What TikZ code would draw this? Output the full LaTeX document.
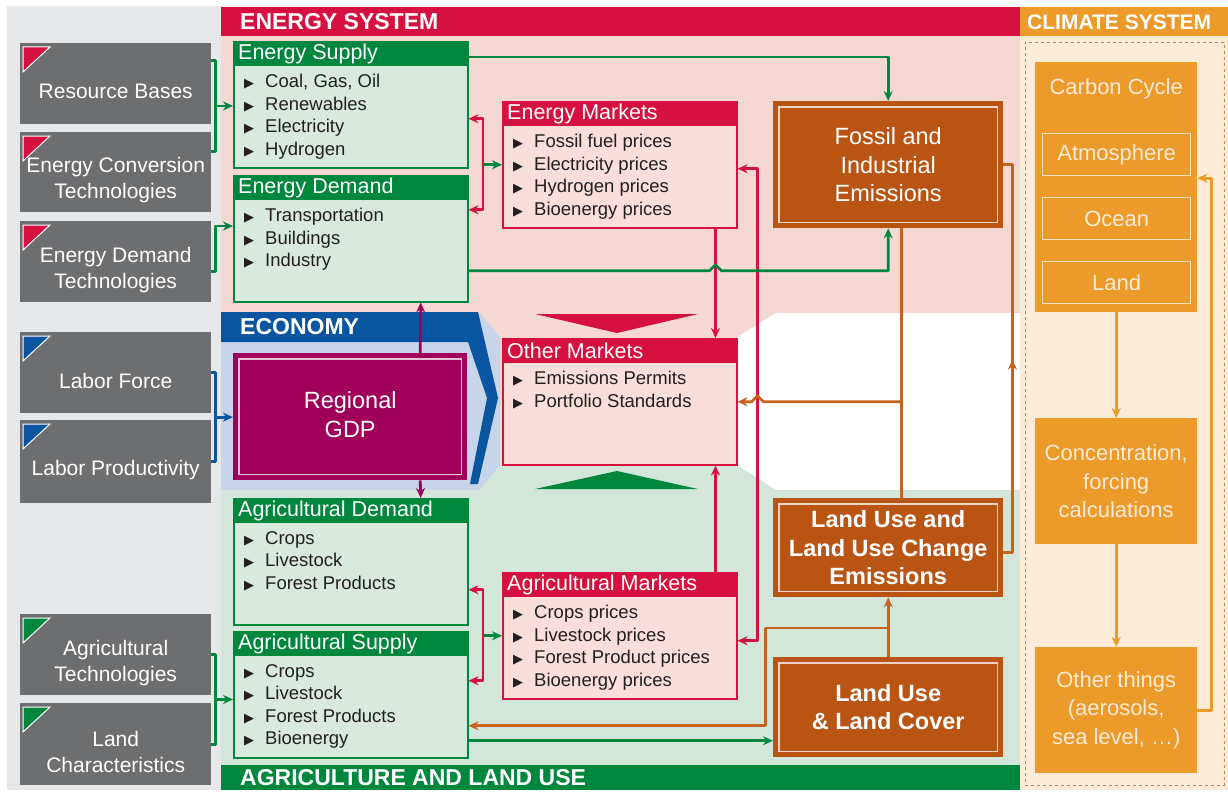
\documentclass[tikz,border=0pt]{standalone}
\usepackage{fontspec}
\setmainfont{Liberation Sans}
\newfontfamily\symfont{DejaVu Sans}
\usetikzlibrary{calc,arrows.meta}
\definecolor{esred}{HTML}{D6113F}
\definecolor{espink}{HTML}{F6D8D2}
\definecolor{pinkbox}{HTML}{F9DEDA}
\definecolor{agreen}{HTML}{00873E}
\definecolor{agbg}{HTML}{D3E6DA}
\definecolor{boxgreen}{HTML}{D7EADD}
\definecolor{ecblue}{HTML}{0A55A0}
\definecolor{eclight}{HTML}{C8D4EA}
\definecolor{gdpred}{HTML}{A0005A}
\definecolor{brownbox}{HTML}{B95413}
\definecolor{brownline}{HTML}{C4621E}
\definecolor{clorange}{HTML}{EC9A2A}
\definecolor{clcream}{HTML}{FCEBD7}
\definecolor{clline}{HTML}{FBE2BE}
\definecolor{panelgray}{HTML}{E6E7E8}
\definecolor{boxgray}{HTML}{6D6E70}
\definecolor{itemtext}{HTML}{231F20}
\newcommand{\figunit}{1pt}
\newcommand{\itm}{\makebox[21pt][l]{\symfont\fontsize{13}{13}\selectfont ▶}}
\newcommand{\inputbox}[5]{
	\node[inbox, minimum height=#3] (#1) at (#2) {};
	\node[intext] (#1-text) at ($(#1.center)+(0,8)$) {#5};
	\filldraw[fill=#4, draw=white, line width=1pt] ($(#1.north west)+(3,4)$) -- ++(27,0) -- ++(-27,25) -- cycle;
}
\newcommand{\listbox}[6]{
	\node[listframe, draw=#3, fill=#4] (#1) at (#2) {};
	\fill[#3] (#1.north west) rectangle ($(#1.north east)+(0,25)$);
	\node[listhead] (#1-head) at ($(#1.north west)+(5,12.5)$) {#5};
	\node[listitems] (#1-items) at ($(#1.north west)+(11,33)$) {#6};
}
\newcommand{\emitbox}[4]{
	\node[emitfill, minimum height=#3] (#1) at (#2) {};
	\draw[emitline] ($(#1.north west)+(6,6)$) rectangle ($(#1.south east)+(-6,-6)$);
	\node[emittext] (#1-text) at (#1.center) {#4};
}

\begin{document}
\begin{tikzpicture}[x=\figunit,y=-\figunit,
	inbox/.style={fill=boxgray, minimum width=191pt, anchor=north west, inner sep=0pt},
	intext/.style={text=white, align=center, font=\fontsize{21}{26}\selectfont},
	listframe/.style={minimum width=234pt, minimum height=126pt, anchor=north west, inner sep=0pt, line width=1.5pt},
	listhead/.style={anchor=west, text=white, inner sep=0pt, font=\fontsize{21.5}{24}\selectfont},
	listitems/.style={anchor=north west, align=left, inner sep=0pt, text=itemtext, font=\fontsize{18.5}{22.5}\selectfont},
	emitfill/.style={fill=brownbox, minimum width=230pt, anchor=north west, inner sep=0pt},
	emitline/.style={draw=white!75!brownbox, line width=1.3pt},
	emittext/.style={text=white, align=center, font=\fontsize{23.5}{28.5}\selectfont},
	climbox/.style={fill=clorange, minimum width=162pt, anchor=north west, inner sep=0pt, text=clcream, align=center, font=\fontsize{22}{28.5}\selectfont},
	climsub/.style={draw=clline, line width=1.3pt, minimum width=148pt, minimum height=42pt, anchor=north west, inner sep=0pt, text=clcream, font=\fontsize{22}{26}\selectfont},
	banner/.style={anchor=west, text=white, inner sep=0pt, font=\bfseries\fontsize{23}{26}\selectfont},
	link/.style={line width=2.8pt, line join=round},
	headed/.style={-{Stealth[length=10pt,width=9pt]}},
	both/.style={{Stealth[length=10pt,width=9pt]}-{Stealth[length=10pt,width=9pt]}},
	garrow/.style={link, draw=agreen, headed},
	rarrow/.style={link, draw=esred, headed},
	rline/.style={link, draw=esred},
	barrow/.style={link, draw=brownline, headed},
	bline/.style={link, draw=brownline},
	parrow/.style={link, draw=gdpred, headed},
	oarrow/.style={link, draw=clorange, headed},
	bbarrow/.style={link, draw=ecblue, headed},
	gline/.style={link, draw=agreen}]
	\useasboundingbox (0,0) rectangle (1228,792);

	% backgrounds
	\fill[panelgray] (7,6) rectangle (222,790);
	\fill[espink] (221,36) rectangle (1020,313);
	\fill[agbg] (221,490) rectangle (1020,765);
	\fill[eclight] (221,313) rectangle (500,490);
	\fill[espink] (480,313) -- (776,313) -- (737,337) -- (737,400) -- (500,400) -- (500,337) -- cycle;
	\fill[agbg] (500,400) -- (737,400) -- (737,465) -- (776,490) -- (480,490) -- (500,465) -- cycle;
	\fill[clcream] (1020,36) rectangle (1228,790);
	\fill[esred] (535,314) -- (698,314) -- (617,333) -- cycle;
	\fill[agreen] (535,489) -- (698,489) -- (617,471) -- cycle;

	% banners
	\fill[esred] (221,7) rectangle (1020,36);
	\node[banner] (esbanner) at (240,22) {ENERGY SYSTEM};
	\fill[clorange] (1020,7) rectangle (1228,36);
	\node[banner, font=\bfseries\fontsize{21}{24}\selectfont] (clbanner) at (1027,22) {CLIMATE SYSTEM};
	\fill[ecblue] (221,312) -- (478,312) -- (498,398) -- (478,484) -- (470,484) -- (487,398) -- (468,342) -- (221,342) -- cycle;
	\node[banner] (ecbanner) at (240,327) {ECONOMY};
	\fill[agreen] (221,765) rectangle (1020,790);
	\node[banner] (agbanner) at (240,778) {AGRICULTURE AND LAND USE};
	\node[draw=clorange!55!gray, dashed, line width=0.8pt, minimum width=199pt, minimum height=743pt, anchor=north west, inner sep=0pt] (climframe) at (1025,42) {};

	% inputs
	\inputbox{rsrc}{20,43}{81pt}{esred}{Resource Bases}
	\inputbox{econv}{20,132}{80pt}{esred}{Energy Conversion\\Technologies}
	\inputbox{edtech}{20,221}{81pt}{esred}{Energy Demand\\Technologies}
	\inputbox{labforce}{20,332}{81pt}{ecblue}{Labor Force}
	\inputbox{labprod}{20,420}{83pt}{ecblue}{Labor Productivity}
	\inputbox{agtech}{20,614}{81pt}{agreen}{Agricultural\\Technologies}
	\inputbox{landchar}{20,703}{82pt}{agreen}{Land\\Characteristics}

	% sector boxes
	\listbox{esupply}{233,41}{agreen}{boxgreen}{Energy Supply}{\itm Coal, Gas, Oil\\\itm Renewables\\\itm Electricity\\\itm Hydrogen}
	\listbox{edemand}{233,175}{agreen}{boxgreen}{Energy Demand}{\itm Transportation\\\itm Buildings\\\itm Industry}
	\listbox{emarkets}{502,101}{esred}{pinkbox}{Energy Markets}{\itm Fossil fuel prices\\\itm Electricity prices\\\itm Hydrogen prices\\\itm Bioenergy prices}
	\listbox{omarkets}{502,338}{esred}{pinkbox}{Other Markets}{\itm Emissions Permits\\\itm Portfolio Standards}
	\listbox{agdemand}{233,498}{agreen}{boxgreen}{Agricultural Demand}{\itm Crops\\\itm Livestock\\\itm Forest Products}
	\listbox{agsupply}{233,631}{agreen}{boxgreen}{Agricultural Supply}{\itm Crops\\\itm Livestock\\\itm Forest Products\\\itm Bioenergy}
	\listbox{agmarkets}{502,572}{esred}{pinkbox}{Agricultural Markets}{\itm Crops prices\\\itm Livestock prices\\\itm Forest Product prices\\\itm Bioenergy prices}

	\node[fill=gdpred, minimum width=234pt, minimum height=127pt, anchor=north west, inner sep=0pt] (gdp) at (233,353) {};
	\draw[emitline, draw=white!75!gdpred] ($(gdp.north west)+(6,6)$) rectangle ($(gdp.south east)+(-6,-6)$);
	\node[emittext] (gdp-text) at ($(gdp.center)+(0,-2)$) {Regional\\GDP};

	\emitbox{fossil}{773,101}{127pt}{Fossil and\\Industrial\\Emissions}
	\emitbox{luemis}{773,498}{99pt}{\bfseries Land Use and\\\bfseries Land Use Change\\\bfseries Emissions}
	\emitbox{lucover}{773,657}{100pt}{\bfseries Land Use\\\bfseries \& Land Cover}

	% climate
	\node[climbox, minimum height=250pt] (carbon) at (1035,62) {};
	\node[text=clcream, font=\fontsize{22}{26}\selectfont] (carbon-text) at ($(carbon.north)+(0,27)$) {Carbon Cycle};
	\node[climsub] (atmos) at (1042,133) {Atmosphere};
	\node[climsub] (ocean) at (1042,197) {Ocean};
	\node[climsub] (landcc) at (1042,261) {Land};
	\node[climbox, minimum height=126pt] (concen) at (1035,418) {Concentration,\\forcing\\calculations};
	\node[climbox, minimum height=126pt] (other) at (1035,647) {Other things\\(aerosols,\\sea level, \dots)};

	% input links
	\draw[gline] ($(rsrc.east)+(0,-23)$) -| ($(econv.east)+(4,-21)$) -- ($(econv.east)+(0,-21)$);
	\coordinate (brk1) at ($(rsrc.east)!0.5!(econv.east)+(4,-22)$);
	\draw[garrow] (brk1) -- (brk1 -| esupply.west);
	\draw[garrow] ($(edtech.east)+(0,10)$) -- ++(4,0) |- ($(edemand.north west)+(0,51)$);
	\draw[link, draw=ecblue] (labforce.east) -- ++(4,0) |- (labprod.east);
	\coordinate (brk2) at ($(labforce.east)!0.5!(labprod.east)+(4,0)$);
	\draw[bbarrow] (brk2) -- (brk2 -| gdp.west);
	\draw[gline] (agtech.east) -- ++(4,0) |- (landchar.east);
	\coordinate (brk3) at ($(agtech.east)!0.5!(landchar.east)+(4,0)$);
	\draw[garrow] (brk3) -- (brk3 -| agsupply.west);

	% market brackets
	\coordinate (ebrk) at ($(emarkets.west)+(-19,0)$);
	\draw[rline, both] ($(esupply.east)+(0,14)$) -| (ebrk) |- ($(edemand.east)+(0,-29)$);
	\draw[garrow] (ebrk) -- (emarkets.west);
	\coordinate (abrk) at ($(agmarkets.west)+(-19,0)$);
	\draw[rline, both] ($(agdemand.east)+(0,28)$) -| (abrk) |- ($(agsupply.east)+(0,-14)$);
	\draw[garrow] (abrk) -- (agmarkets.west);

	% market links
	\coordinate (emkt) at ($(emarkets.south east)+(-22,0)$);
	\draw[rarrow] (emkt) -- (emkt |- omarkets.north);
	\draw[rarrow] (emkt |- agmarkets.north) -- (emkt |- omarkets.south);
	\draw[rline, both] ($(emarkets.east)+(0,4)$) -- ++(20,0) coordinate (rv) |- ($(agmarkets.east)+(0,5)$);
	\draw[parrow] ($(gdp.north)+(70,0)$) -- ($(edemand.south)+(70,0)$);
	\draw[parrow] ($(gdp.south)+(70,0)$) -- ($(agdemand.north)+(70,0)$);

	% emissions links
	\draw[garrow] ($(esupply.north east)+(0,16)$) -| (fossil.north);
	\coordinate (ed1) at ($(edemand.east)+(0,32)$);
	\coordinate (hop1) at (emkt |- ed1);
	\draw[garrow] (ed1) -- ($(hop1)+(-6,0)$) -- ($(hop1)+(0,-6)$) -- ($(hop1)+(6,0)$) -| (fossil.south);
	\coordinate (bj) at ($(fossil.south)+(13,0)$);
	\draw[bline] (bj) -- (bj |- luemis.north);
	\coordinate (hop2) at (rv |- omarkets.east);
	\draw[barrow] (bj |- omarkets.east) -- ($(hop2)+(6,0)$) -- ($(hop2)+(0,-6)$) -- ($(hop2)+(-6,0)$) -- (omarkets.east);
	\draw[bline] (fossil.east) -- ++(9,0) coordinate (bv) |- ($(luemis.east)+(0,5)$);
	\draw[barrow] ($(bv)+(0,195)$) -- ($(bv)+(0,195)$ -| climframe.west);
	\draw[barrow] (lucover.north) -- (luemis.south);
	\coordinate (lc) at ($(lucover.north)+(0,-29)$);
	\draw[barrow] (lc) -| ($(agsupply.east)+(297,31)$) -- ($(agsupply.east)+(0,31)$);
	\coordinate (as1) at ($(agsupply.east)+(0,46)$);
	\draw[garrow] (as1) -- (as1 -| lucover.west);

	% climate links
	\draw[oarrow] (carbon.south) -- (concen.north);
	\draw[oarrow] (concen.south) -- (other.north);
	\draw[oarrow] (other.east) -- ++(14,0) |- ($(carbon.east)+(0,-9)$);
\end{tikzpicture}
\end{document}
